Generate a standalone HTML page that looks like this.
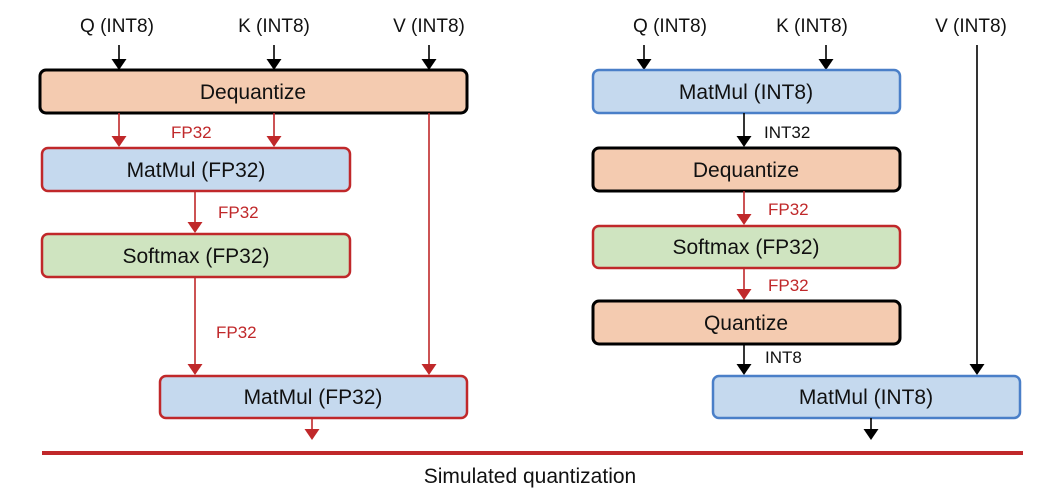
<!DOCTYPE html>
<html><head><style>body{margin:0;background:#fff}svg{display:block}text{font-family:"Liberation Sans",sans-serif}</style></head>
<body>
<svg width="1050" height="500" viewBox="0 0 1050 500">
<style>
.bk{stroke:#000;stroke-width:1.6;fill:none}
.rd{stroke:#c0282a;stroke-width:1.6;fill:none}
.t{font-size:21px;text-anchor:middle;fill:#111}
.l{font-size:19px;fill:#111}
.lr{font-size:17px;fill:#c0282a}
.lb{font-size:17px;fill:#111}
</style>
<!-- Left -->
<text class="l" x="117" y="32" text-anchor="middle">Q (INT8)</text>
<text class="l" x="274" y="32" text-anchor="middle">K (INT8)</text>
<text class="l" x="429" y="32" text-anchor="middle">V (INT8)</text>
<g fill="#000"><path d="M111.5,59 L126.5,59 L119,70z"/><path d="M266.5,59 L281.5,59 L274,70z"/><path d="M421.5,59 L436.5,59 L429,70z"/></g>
<line class="bk" x1="274" y1="45" x2="274" y2="62"/><line class="bk" x1="429" y1="45" x2="429" y2="62"/><line class="bk" x1="119" y1="45" x2="119" y2="62"/>
<rect x="40" y="70" width="427" height="43" rx="6" fill="#f4cbb0" stroke="#000" stroke-width="3"/>
<text class="t" x="253" y="99">Dequantize</text>
<g fill="#c0282a">
<path d="M111.5,136 L126.5,136 L119,147z"/><path d="M266.5,136 L281.5,136 L274,147z"/>
<path d="M187.5,222 L202.5,222 L195,233z"/><path d="M187.5,364 L202.5,364 L195,375z"/><path d="M421.5,364 L436.5,364 L429,375z"/>
<path d="M304.5,429 L319.5,429 L312,440z"/>
</g>
<line class="rd" x1="119" y1="113" x2="119" y2="139"/><line class="rd" x1="274" y1="113" x2="274" y2="139"/>
<text class="lr" x="171" y="138">FP32</text>
<rect x="42" y="148" width="308" height="43" rx="6" fill="#c5d9ee" stroke="#c0282a" stroke-width="2.5"/>
<text class="t" x="196" y="177">MatMul (FP32)</text>
<line class="rd" x1="195" y1="191" x2="195" y2="225"/>
<text class="lr" x="218" y="218">FP32</text>
<rect x="42" y="234" width="308" height="43" rx="6" fill="#cfe4c0" stroke="#c0282a" stroke-width="2.5"/>
<text class="t" x="196" y="263">Softmax (FP32)</text>
<line class="rd" x1="195" y1="277" x2="195" y2="367"/>
<text class="lr" x="216" y="338">FP32</text>
<line class="rd" x1="429" y1="113" x2="429" y2="367"/>
<rect x="160" y="376" width="307" height="42" rx="6" fill="#c5d9ee" stroke="#c0282a" stroke-width="2.5"/>
<text class="t" x="313" y="404">MatMul (FP32)</text>
<line class="rd" x1="312" y1="418" x2="312" y2="432"/>
<!-- Right -->
<text class="l" x="670" y="32" text-anchor="middle">Q (INT8)</text>
<text class="l" x="812" y="32" text-anchor="middle">K (INT8)</text>
<text class="l" x="971" y="32" text-anchor="middle">V (INT8)</text>
<g fill="#000">
<path d="M636.5,59 L651.5,59 L644,70z"/><path d="M818.5,59 L833.5,59 L826,70z"/>
<path d="M736.5,136 L751.5,136 L744,147z"/><path d="M736.5,364 L751.5,364 L744,375z"/><path d="M969.5,364 L984.5,364 L977,375z"/>
<path d="M863.5,429 L878.5,429 L871,440z"/>
</g>
<line class="bk" x1="644" y1="45" x2="644" y2="62"/><line class="bk" x1="826" y1="45" x2="826" y2="62"/>
<line class="bk" x1="977" y1="45" x2="977" y2="367"/>
<rect x="593" y="70" width="307" height="43" rx="6" fill="#c5d9ee" stroke="#4a7fc8" stroke-width="2.5"/>
<text class="t" x="746" y="99">MatMul (INT8)</text>
<line class="bk" x1="744" y1="113" x2="744" y2="139"/>
<text class="lb" x="764" y="138">INT32</text>
<rect x="593" y="148" width="307" height="43" rx="6" fill="#f4cbb0" stroke="#000" stroke-width="3"/>
<text class="t" x="746" y="177">Dequantize</text>
<g fill="#c0282a"><path d="M736.5,214 L751.5,214 L744,225z"/><path d="M736.5,289 L751.5,289 L744,300z"/></g>
<line class="rd" x1="744" y1="191" x2="744" y2="217"/>
<text class="lr" x="768" y="215">FP32</text>
<rect x="593" y="226" width="307" height="42" rx="6" fill="#cfe4c0" stroke="#c0282a" stroke-width="2.5"/>
<text class="t" x="746" y="254">Softmax (FP32)</text>
<line class="rd" x1="744" y1="268" x2="744" y2="292"/>
<text class="lr" x="768" y="291">FP32</text>
<rect x="593" y="301" width="307" height="43" rx="6" fill="#f4cbb0" stroke="#000" stroke-width="3"/>
<text class="t" x="746" y="330">Quantize</text>
<line class="bk" x1="744" y1="344" x2="744" y2="367"/>
<text class="lb" x="765" y="363">INT8</text>
<rect x="713" y="376" width="307" height="42" rx="6" fill="#c5d9ee" stroke="#4a7fc8" stroke-width="2.5"/>
<text class="t" x="866" y="404">MatMul (INT8)</text>
<line class="bk" x1="871" y1="418" x2="871" y2="432"/>
<!-- bottom -->
<rect x="42" y="451" width="981" height="4" fill="#c0282a"/>
<text x="530" y="483" font-size="21" text-anchor="middle" fill="#111">Simulated quantization</text>
</svg>
</body></html>
